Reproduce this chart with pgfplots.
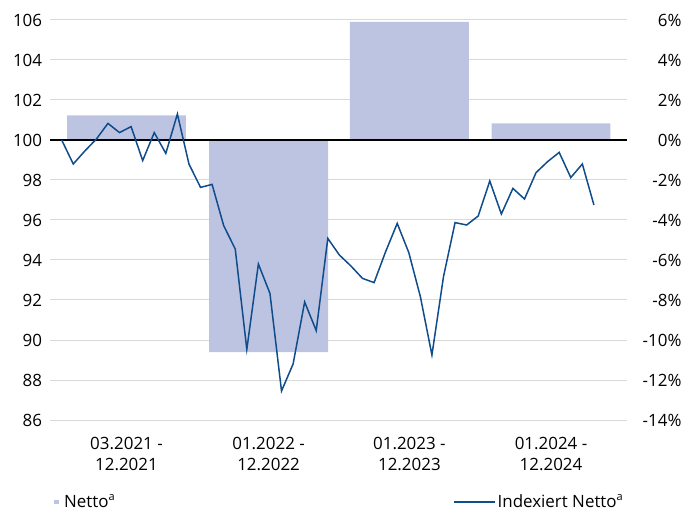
\documentclass[border=0pt]{standalone}
\usepackage{fontspec}
\setmainfont{Open Sans}
\usepackage{pgfplots}
\pgfplotsset{compat=1.18}
\definecolor{barc}{RGB}{189,196,226}
\definecolor{linec}{RGB}{16,76,140}
\definecolor{gridc}{RGB}{217,217,217}
\newcommand{\supa}{\raisebox{0.42em}{\fontsize{11}{11}\selectfont a}}
\begin{document}
\fontsize{17}{21.5}\selectfont
\begin{tikzpicture}
\useasboundingbox (-50bp,-91bp) rectangle (647bp,420bp);
\pgfplotsset{common/.style={
  scale only axis, width=577bp, height=400bp,
  xmin=-1.01, xmax=48.86,
  axis line style={draw=none}, tick style={draw=none},
  anchor=south west, at={(0,0)},
  /pgf/number format/assume math mode=true,
  ticklabel style={font=\fontsize{17}{21.5}\selectfont},
  legend style={draw=none, fill=none, inner sep=0pt, font=\fontsize{17}{21.5}\selectfont},
}}
% bar axis (right scale)
\begin{axis}[common,
  ymin=-14, ymax=6,
  ytick={-14,-12,-10,-8,-6,-4,-2,0,2,4,6},
  yticklabels={-14\%,-12\%,-10\%,-8\%,-6\%,-4\%,-2\%,0\%,2\%,4\%,6\%},
  yticklabel pos=right,
  yticklabel style={anchor=east, inner sep=0pt, xshift=54.7bp},
  ymajorgrids, major grid style={gridc, line width=1bp},
  xtick={5.6,17.88,30.05,42.29},
  xticklabels={{03.2021 -\\12.2021},{01.2022 -\\12.2022},{01.2023 -\\12.2023},{01.2024 -\\12.2024}},
  xticklabel style={align=center, inner sep=0pt, yshift=-17bp},
  legend style={at={(0.007,-0.205)}, anchor=west},
]
\addplot[ybar, bar width=10.28, bar shift=0pt, fill=barc, draw=none,
  legend image code/.code={\fill[barc] (0bp,-2.2bp) rectangle (4.4bp,2.2bp);}]
  coordinates {(5.6,1.23) (17.88,-10.6) (30.05,5.9) (42.29,0.83)};
\addlegendentry{\hspace{3.5bp}Netto\supa}
\end{axis}
% line axis (left scale)
\begin{axis}[common,
  ymin=86, ymax=106,
  ytick={86,88,90,92,94,96,98,100,102,104,106},
  yticklabels={86,88,90,92,94,96,98,100,102,104,106},
  yticklabel style={anchor=east, inner sep=0pt, xshift=-7.7bp},
  xtick=\empty,
  legend style={at={(0.9965,-0.205)}, anchor=east},
]
\draw[black, line width=1.6bp] (axis cs:-1.01,100) -- (axis cs:48.86,100);
\addplot[linec, line width=1.5bp, mark=none,
  legend image code/.code={\draw[linec, line width=1.5bp] (0bp,0bp) -- (40.6bp,0bp);}]
  table {
x y
0 100.0
1 98.8
2 99.45
3 100.05
4 100.83
5 100.37
6 100.67
7 98.97
8 100.37
9 99.33
10 101.3
11 98.8
12 97.63
13 97.78
14 95.72
15 94.55
16 89.53
17 93.8
18 92.33
19 87.45
20 88.8
21 91.9
22 90.47
23 95.08
24 94.25
25 93.7
26 93.08
27 92.87
28 94.42
29 95.83
30 94.37
31 92.17
32 89.25
33 93.17
34 95.87
35 95.75
36 96.2
37 97.95
38 96.3
39 97.58
40 97.05
41 98.37
42 98.92
43 99.38
44 98.12
45 98.8
46 96.75
};
\addlegendentry{Indexiert Netto\supa}
\end{axis}
\end{tikzpicture}
\end{document}
